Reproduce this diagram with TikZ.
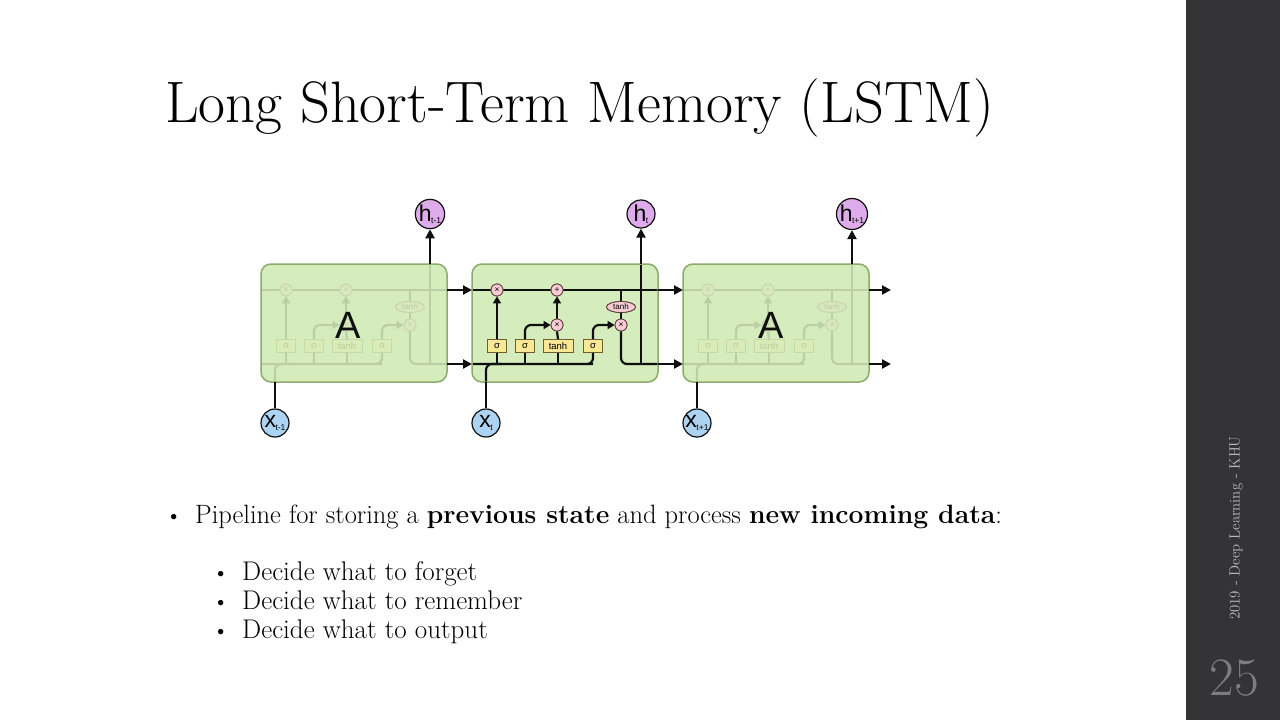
\documentclass[tikz,border=0pt]{standalone}
\usepackage{fontspec}
\newfontfamily\diagfont{Liberation Sans}
\usetikzlibrary{arrows.meta,shapes.geometric}

\definecolor{cellgreen}{RGB}{213,236,188}
\definecolor{cellborder}{RGB}{140,172,110}
\definecolor{linedark}{RGB}{15,15,15}
\definecolor{gateyellow}{RGB}{250,232,150}
\definecolor{gateedge}{RGB}{110,95,45}
\definecolor{oppink}{RGB}{248,204,212}
\definecolor{opedge}{RGB}{90,60,65}
\definecolor{xblue}{RGB}{172,212,242}
\definecolor{hpurple}{RGB}{222,172,234}
\definecolor{sidebar}{RGB}{52,52,55}
\definecolor{sidetext}{RGB}{190,190,190}
\definecolor{pagenum}{RGB}{125,125,128}

\newcommand{\ionode}[2]{\diagfont\fontsize{23}{23}\selectfont #1\kern-0.5pt\raisebox{-2.5pt}{\fontsize{8.5}{9}\selectfont #2}}

\tikzset{
  line/.style={draw=linedark, line width=2.2pt},
  arr/.style={line, -{Triangle[length=9pt,width=9pt]}},
  sarr/.style={line, -{Triangle[length=7pt,width=8pt]}},
  gate/.style={rectangle, draw=gateedge, fill=gateyellow, line width=0.8pt,
    minimum width=19pt, minimum height=13pt, inner sep=0pt,
    font=\diagfont\fontsize{9.5}{9.5}\selectfont},
  op/.style={circle, draw=opedge, fill=oppink, line width=0.8pt,
    minimum size=12pt, inner sep=0pt, font=\diagfont\fontsize{8.5}{8.5}\selectfont},
  tanhop/.style={ellipse, draw=opedge, fill=oppink, line width=0.8pt,
    minimum width=29pt, minimum height=11pt, inner sep=0pt,
    font=\diagfont\fontsize{8}{8}\selectfont},
  cellbox/.style={rectangle, rounded corners=10pt, minimum width=186pt,
    minimum height=118pt, inner sep=0pt},
  xin/.style={circle, draw=linedark, fill=xblue, line width=1.2pt,
    minimum size=28pt, inner sep=0pt},
  hout/.style={circle, draw=linedark, fill=hpurple, line width=1.2pt,
    minimum size=28pt, inner sep=0pt},
  bigA/.style={font=\diagfont\fontsize{38}{38}\selectfont, text=linedark},
  % inner wiring of one LSTM cell, origin at the cell's left edge
  cellcore/.pic={
    \coordinate (-cin) at (0,290);
    \coordinate (-cout) at (186,290);
    \coordinate (-hin) at (0,364);
    \coordinate (-hout) at (186,364);
    \coordinate (-top) at (169,264);
    \coordinate (-bot) at (14,382);
    \draw[line] (-cin) -- (-cout);
    \node[gate] (-sf) at (25,346) {σ};
    \node[gate] (-si) at (53,346) {σ};
    \node[gate, minimum width=30pt] (-tg) at (86,346) {tanh};
    \node[gate] (-so) at (121,346) {σ};
    \draw[line, rounded corners=6pt] (-hin) -- (115,364) -- (121,364) -- (-so.south);
    \draw[line, rounded corners=6pt] (-bot) -- (14,364) -- (30,364);
    \draw[line] (25,364) -- (-sf.south);
    \draw[line] (53,364) -- (-si.south);
    \draw[line] (86,364) -- (-tg.south);
    \node[op] (-fx) at (25,290) {×};
    \node[op] (-plus) at (85,290) {+};
    \node[op] (-ix) at (85,325) {×};
    \node[tanhop] (-tc) at (149,307) {tanh};
    \node[op] (-ox) at (149,325) {×};
    \draw[sarr] (-sf.north) -- (-fx.south);
    \draw[sarr, rounded corners=6pt] (-si.north) -- (53,325) -- (-ix.west);
    \draw[line] (-tg.north) -- (-ix.south);
    \draw[sarr] (-ix.north) -- (-plus.south);
    \draw[sarr, rounded corners=6pt] (-so.north) -- (121,325) -- (-ox.west);
    \draw[line] (149,290) -- (-tc.north);
    \draw[line] (-tc.south) -- (-ox.north);
    \draw[line, rounded corners=6pt] (-ox.south) -- (149,364) -- (-hout);
    \draw[line] (169,364) -- (-top);
    \node[op] at (-fx) {×};
    \node[op] at (-plus) {+};
    \node[tanhop] at (-tc) {tanh};
    \node[op] at (-ox) {×};
    \node[op] at (-ix) {×};
  }
}

\begin{document}
\begin{tikzpicture}[x=1pt,y=-1pt]
  \useasboundingbox (0,0) rectangle (1280,720);
  \fill[white] (0,0) rectangle (1280,720);

  % side bar
  \fill[sidebar] (1186,0) rectangle (1280,720);
  \node[rotate=90, text=sidetext, font=\fontsize{14.8}{15}\selectfont] (foot) at (1236,528) {2019 - Deep Learning - KHU};
  \node[text=pagenum, font=\fontsize{54}{54}\selectfont] (pnum) at (1234,678) {25};

  % title
  \node[anchor=base west, inner sep=0pt, font=\fontsize{58.5}{62}\selectfont] (title) at (165,122) {Long Short-Term Memory (LSTM)};

  % cell boxes
  \node[cellbox, fill=cellgreen] (b1) at (354,323) {};
  \node[cellbox, fill=cellgreen] (b2) at (565,323) {};
  \node[cellbox, fill=cellgreen] (b3) at (776,323) {};

  \pic (c1) at (261,0) {cellcore};
  \pic (c2) at (472,0) {cellcore};
  \pic (c3) at (683,0) {cellcore};

  % neighbouring cells are shown washed out
  \node[cellbox, fill=cellgreen, fill opacity=0.87] (b1f) at (354,323) {};
  \node[cellbox, fill=cellgreen, fill opacity=0.87] (b3f) at (776,323) {};

  \node[cellbox, draw=cellborder, line width=1.5pt] (b1e) at (354,323) {};
  \node[cellbox, draw=cellborder, line width=1.5pt] (b2e) at (565,323) {};
  \node[cellbox, draw=cellborder, line width=1.5pt] (b3e) at (776,323) {};

  \node[bigA] (A1) at (348,325) {A};
  \node[bigA] (A3) at (771,325) {A};

  % inputs and outputs
  \node[xin] (x1) at (275,423) {\ionode{x}{t-1}};
  \node[xin] (x2) at (486,423) {\ionode{x}{t}};
  \node[xin] (x3) at (697,423) {\ionode{x}{t+1}};
  \node[hout] (h1) at (430,214) {\ionode{h}{t-1}};
  \node[hout] (h2) at (641,214) {\ionode{h}{t}};
  \node[hout] (h3) at (852,214) {\ionode{h}{t+1}};

  \draw[line] (x1.north) -- (c1-bot);
  \draw[line] (x2.north) -- (c2-bot);
  \draw[line] (x3.north) -- (c3-bot);
  \draw[arr] (c1-top) -- (h1.south);
  \draw[arr] (c2-top) -- (h2.south);
  \draw[arr] (c3-top) -- (h3.south);

  \coordinate (endc) at (891,290);
  \coordinate (endh) at (891,364);
  \draw[arr] (c1-cout) -- (c2-cin);
  \draw[arr] (c1-hout) -- (c2-hin);
  \draw[arr] (c2-cout) -- (c3-cin);
  \draw[arr] (c2-hout) -- (c3-hin);
  \draw[arr] (c3-cout) -- (endc);
  \draw[arr] (c3-hout) -- (endh);

  % bullet list
  \begin{scope}[every node/.style={anchor=base west, inner sep=0pt}]
    \node[font=\fontsize{24}{28}\selectfont] (bu0) at (165,523) {\textbullet};
    \node[font=\fontsize{26.5}{30}\selectfont] (t0) at (195,523) {Pipeline for storing a \textbf{previous state} and process \textbf{new incoming data}:};
    \node[font=\fontsize{24}{28}\selectfont] (bu1) at (212,580) {\textbullet};
    \node[font=\fontsize{27}{30}\selectfont] (t1) at (242,580) {Decide what to forget};
    \node[font=\fontsize{24}{28}\selectfont] (bu2) at (212,609) {\textbullet};
    \node[font=\fontsize{27}{30}\selectfont] (t2) at (242,609) {Decide what to remember};
    \node[font=\fontsize{24}{28}\selectfont] (bu3) at (212,638) {\textbullet};
    \node[font=\fontsize{27}{30}\selectfont] (t3) at (242,638) {Decide what to output};
  \end{scope}
\end{tikzpicture}
\end{document}
